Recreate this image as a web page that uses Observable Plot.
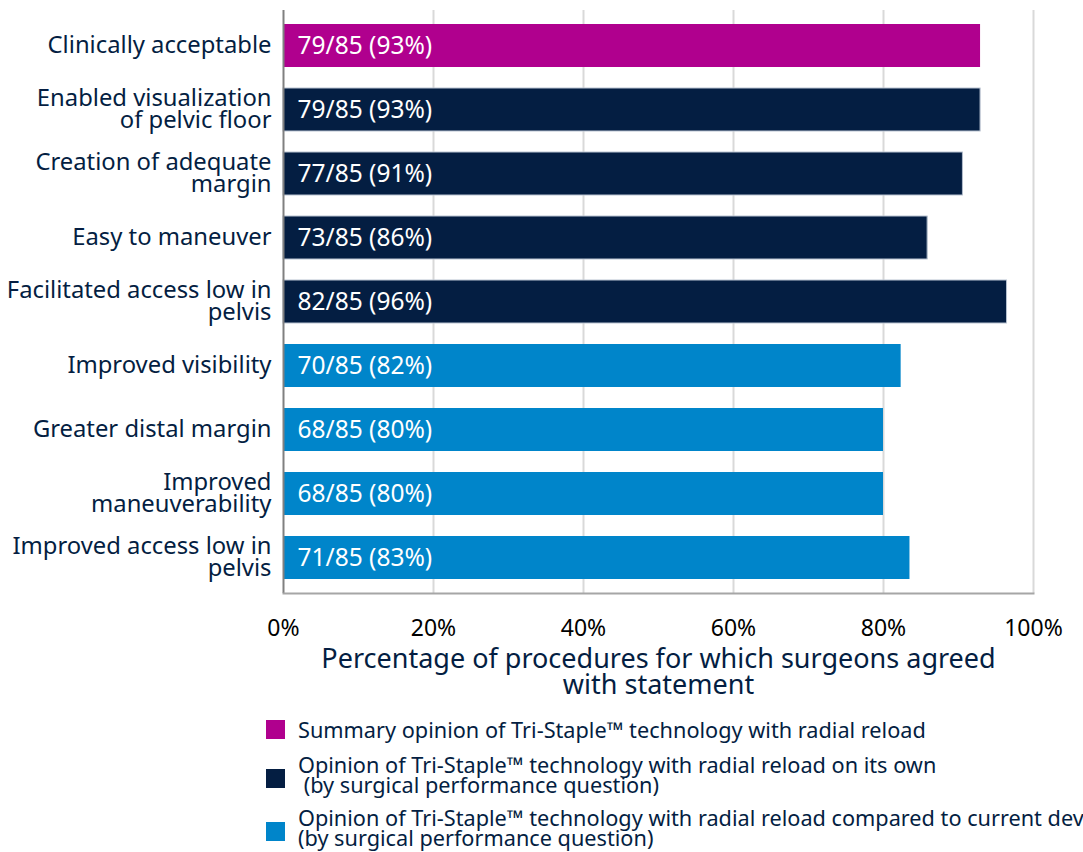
<!DOCTYPE html>
<html>
<head>
<meta charset="utf-8">
<script src="https://cdn.jsdelivr.net/npm/d3@7"></script>
<script src="https://cdn.jsdelivr.net/npm/@observablehq/plot@0.6"></script>
<style>
  html, body { margin: 0; padding: 0; background: #fff; width: 1083px; height: 852px; overflow: hidden; }
  #wrap { position: relative; width: 1083px; height: 852px; font-family: "Noto Sans", sans-serif; }
  #chart { position: absolute; left: 0; top: 0; }
  .lg-sq { position: absolute; left: 266px; width: 19px; height: 19px; }
  .lg-tx { position: absolute; left: 298px; font-size: 21.7px; line-height: 20px; color: #041E42; white-space: pre; }
</style>
</head>
<body>
<div id="wrap">
  <div id="chart"></div>
  <div id="legend"></div>
</div>
<script>
// ---- data ----
const categories = [
  "Clinically acceptable",
  "Enabled visualization\nof pelvic floor",
  "Creation of adequate\nmargin",
  "Easy to maneuver",
  "Facilitated access low in\npelvis",
  "Improved visibility",
  "Greater distal margin",
  "Improved\nmaneuverability",
  "Improved access low in\npelvis"
];
const counts = [79, 79, 77, 73, 82, 70, 68, 68, 71];
const totals = [85, 85, 85, 85, 85, 85, 85, 85, 85];
const pctLabels = [93, 93, 91, 86, 96, 82, 80, 80, 83];
const groups = ["summary", "own", "own", "own", "own", "compared", "compared", "compared", "compared"];
const groupNames = ["summary", "own", "compared"];
const groupColors = ["#B0008E", "#041E42", "#0085CA"];
const legendLabels = [
  "Summary opinion of Tri-Staple™ technology with radial reload",
  "Opinion of Tri-Staple™ technology with radial reload on its own\n (by surgical performance question)",
  "Opinion of Tri-Staple™ technology with radial reload compared to current device\n(by surgical performance question)"
];
const xTicks = [0, 20, 40, 60, 80, 100];
const xTitle = "Percentage of procedures for which surgeons agreed\nwith statement";

const navy = "#041E42";
const data = categories.map((c, i) => ({
  cat: c,
  pct: counts[i] / totals[i] * 100,
  label: `${counts[i]}/${totals[i]} (${pctLabels[i]}%)`,
  group: groups[i]
}));

const chart = Plot.plot({
  width: 1083,
  height: 705,
  marginTop: 10,
  marginBottom: 112,
  marginLeft: 283,
  marginRight: 50,
  style: { fontFamily: "'Noto Sans', sans-serif", background: "white" },
  x: { domain: [0, 100] },
  y: { domain: categories, paddingInner: 0.33, paddingOuter: 0.155 },
  color: { domain: groupNames, range: groupColors },
  marks: [
    Plot.gridX(xTicks.slice(1), { stroke: "#d9d9d9", strokeWidth: 2, strokeOpacity: 1 }),
    Plot.barX(data, { x: "pct", y: "cat", fill: "group" }),
    Plot.barX(data, { filter: d => d.group === "own", x: "pct", y: "cat", fill: "group", stroke: "#b9c3d1", strokeWidth: 1 }),
    Plot.ruleX([0], { stroke: "#808080", strokeWidth: 2 }),
    Plot.frame({ anchor: "bottom", stroke: "#a6a6a6", strokeWidth: 2 }),
    Plot.axisX({ ticks: xTicks, tickFormat: d => d + "%", tickSize: 0, tickPadding: 26, fontSize: 23, fill: "#000", label: null }),
    Plot.axisY({ tickSize: 0, tickPadding: 12, fontSize: 23.8, lineHeight: 0.92, fill: navy, label: null }),
    Plot.text(data, { x: 0, y: "cat", text: "label", dx: 14, textAnchor: "start", fill: "white", fontSize: 24.5 }),
    Plot.text([xTitle], { frameAnchor: "bottom", dy: 56, lineAnchor: "top", fontSize: 27, fill: navy, lineHeight: 0.96 })
  ]
});
document.getElementById("chart").appendChild(chart);

// ---- legend ----
const lg = document.getElementById("legend");
const sqTops = [720, 769, 822];
const txTops = [720, 755, 808];
groupNames.forEach((g, i) => {
  const sq = document.createElement("div");
  sq.className = "lg-sq";
  sq.style.top = sqTops[i] + "px";
  sq.style.background = groupColors[i];
  lg.appendChild(sq);
  const tx = document.createElement("div");
  tx.className = "lg-tx";
  tx.style.top = txTops[i] + "px";
  tx.textContent = legendLabels[i];
  lg.appendChild(tx);
});
</script>
</body>
</html>
